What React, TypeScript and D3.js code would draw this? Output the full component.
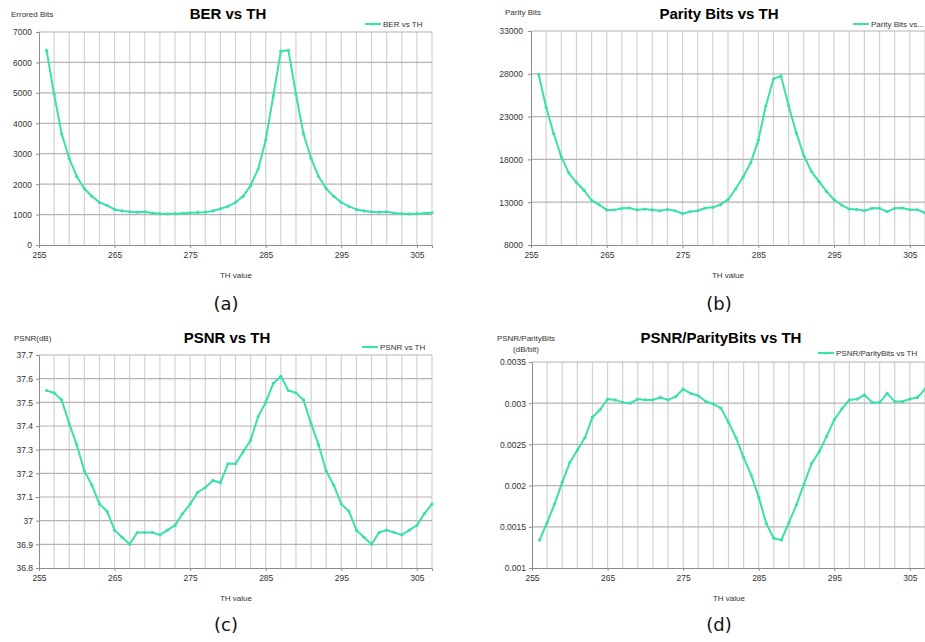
import { useEffect, useRef } from "react";
import * as d3 from "d3";

const thValues = [
  256, 257, 258, 259, 260, 261, 262, 263, 264, 265, 266, 267, 268, 269, 270, 271, 272, 273,
  274, 275, 276, 277, 278, 279, 280, 281, 282, 283, 284, 285, 286, 287, 288, 289, 290, 291,
  292, 293, 294, 295, 296, 297, 298, 299, 300, 301, 302, 303, 304, 305, 306, 307,
];

const berValues = [
  6400, 4950, 3650, 2850, 2250, 1850, 1600, 1400, 1300, 1170, 1120, 1090, 1080, 1090, 1050, 1030, 1020, 1030,
  1040, 1060, 1070, 1080, 1120, 1190, 1270, 1400, 1600, 1950, 2500, 3450, 4900, 6370, 6400, 4950, 3650, 2850,
  2250, 1850, 1600, 1400, 1270, 1170, 1120, 1090, 1080, 1090, 1050, 1030, 1020, 1030, 1040, 1060,
];

const parityValues = [
  27950, 24100, 21000, 18300, 16400, 15300, 14400, 13200, 12700, 12100, 12100, 12280, 12320, 12100, 12200, 12100, 12000, 12160,
  12000, 11660, 11890, 12000, 12320, 12400, 12710, 13300, 14540, 15940, 17600, 20250, 24270, 27400, 27750, 24270, 21150, 18450,
  16600, 15430, 14260, 13290, 12670, 12200, 12160, 12000, 12280, 12280, 11890, 12280, 12320, 12120, 12120, 11770,
];

const psnrValues = [
  37.55, 37.54, 37.51, 37.41, 37.32, 37.21, 37.15, 37.07, 37.04, 36.96, 36.93, 36.9, 36.95, 36.95, 36.95, 36.94, 36.96, 36.98,
  37.03, 37.07, 37.12, 37.14, 37.17, 37.16, 37.24, 37.24, 37.29, 37.34, 37.44, 37.5, 37.58, 37.61, 37.55, 37.54, 37.51, 37.41,
  37.32, 37.21, 37.15, 37.07, 37.04, 36.96, 36.93, 36.9, 36.95, 36.96, 36.95, 36.94, 36.96, 36.98, 37.03, 37.07,
];

const ratioValues = [
  0.00134, 0.00155, 0.00178, 0.00204, 0.00228, 0.00243, 0.00258, 0.00283, 0.00292, 0.00305, 0.00304, 0.00301, 0.003, 0.00305, 0.00304, 0.00304, 0.00307, 0.00304,
  0.00308, 0.00317, 0.00312, 0.00309, 0.00302, 0.00299, 0.00294, 0.00277, 0.00258, 0.00234, 0.00213, 0.00186, 0.00154, 0.00136, 0.00134, 0.00155, 0.00177, 0.00202,
  0.00227, 0.00241, 0.0026, 0.0028, 0.00293, 0.00304, 0.00305, 0.0031, 0.00301, 0.00301, 0.00312, 0.00302, 0.00302, 0.00305, 0.00307, 0.00317,
];

const xTicks = [255, 265, 275, 285, 295, 305];
const xGrid = [257, 259, 261, 263, 265, 267, 269, 271, 273, 275, 277, 279, 281, 283, 285, 287, 289, 291, 293, 295, 297, 299, 301, 303, 305, 307];

const berTicks = [0, 1000, 2000, 3000, 4000, 5000, 6000, 7000];
const parityTicks = [8000, 13000, 18000, 23000, 28000, 33000];
const psnrTicks = [36.8, 36.9, 37, 37.1, 37.2, 37.3, 37.4, 37.5, 37.6, 37.7];
const ratioTicks = [0.001, 0.0015, 0.002, 0.0025, 0.003, 0.0035];

const panels = [
  {
    values: berValues, ticks: berTicks, title: "BER vs TH", ylabel: ["Errored Bits"], legend: "BER vs TH", caption: "(a)",
    box: { left: 39, right: 432, top: 32, bottom: 245 }, titleX: 228, titleY: 19, ylabelX: 11, ylabelY: 17, ylabelAnchor: "start",
    legendX: 365, legendY: 27, xlabelX: 236, xlabelY: 278, captionX: 226, captionY: 310, labelRight: 32,
  },
  {
    values: parityValues, ticks: parityTicks, title: "Parity Bits vs TH", ylabel: ["Parity Bits"], legend: "Parity Bits vs...", caption: "(b)",
    box: { left: 531, right: 925, top: 31, bottom: 245 }, titleX: 719, titleY: 19, ylabelX: 505, ylabelY: 15, ylabelAnchor: "start",
    legendX: 853, legendY: 27, xlabelX: 728, xlabelY: 278, captionX: 719, captionY: 310, labelRight: 523,
  },
  {
    values: psnrValues, ticks: psnrTicks, title: "PSNR vs TH", ylabel: ["PSNR(dB)"], legend: "PSNR vs TH", caption: "(c)",
    box: { left: 39, right: 432, top: 355, bottom: 568 }, titleX: 227, titleY: 343, ylabelX: 14, ylabelY: 341, ylabelAnchor: "start",
    legendX: 362, legendY: 350, xlabelX: 236, xlabelY: 601, captionX: 226, captionY: 631, labelRight: 33,
  },
  {
    values: ratioValues, ticks: ratioTicks, title: "PSNR/ParityBits vs TH", ylabel: ["PSNR/ParityBits", "(dB/bit)"], legend: "PSNR/ParityBits vs TH", caption: "(d)",
    box: { left: 532, right: 925, top: 362, bottom: 568 }, titleX: 721, titleY: 343, ylabelX: 526, ylabelY: 341, ylabelAnchor: "middle",
    legendX: 818, legendY: 356, xlabelX: 729, xlabelY: 601, captionX: 719, captionY: 631, labelRight: 526,
  },
];

const lineColor = "#3be0ac";
const font = "'Liberation Sans', Arial, sans-serif";

const App = () => {
  const svgRef = useRef<SVGSVGElement>(null);

  useEffect(() => {
    const svg = d3.select(svgRef.current);
    svg.selectAll("*").remove();
    svg.append("rect").attr("width", 925).attr("height", 642).attr("fill", "#fff");

    panels.forEach((p) => {
      const { left, right, top, bottom } = p.box;
      const x = d3.scaleLinear().domain([255, 307]).range([left, right]);
      const y = d3.scaleLinear().domain([p.ticks[0], p.ticks[p.ticks.length - 1]]).range([bottom, top]);
      const g = svg.append("g").style("font-family", font);

      // vertical grid
      g.selectAll(".vg").data(xGrid).enter().append("line")
        .attr("x1", (d) => x(d)).attr("x2", (d) => x(d)).attr("y1", top).attr("y2", bottom)
        .attr("stroke", "#d2d2d2").attr("stroke-width", 1.2);
      // horizontal grid
      g.selectAll(".hg").data(p.ticks.slice(1)).enter().append("line")
        .attr("x1", left).attr("x2", right).attr("y1", (d) => y(d)).attr("y2", (d) => y(d))
        .attr("stroke", "#b4b4b4").attr("stroke-width", 1.2);

      // axes
      const yAxis = g.append("g").attr("transform", `translate(${left},0)`)
        .call(d3.axisLeft(y).tickValues(p.ticks).tickSize(3).tickFormat((d) => String(+(+d).toPrecision(6))));
      yAxis.select(".domain").attr("stroke", "#8c8c8c");
      yAxis.selectAll(".tick line").attr("stroke", "#8c8c8c");
      yAxis.selectAll("text").attr("x", p.labelRight - left).attr("dy", "0.35em")
        .style("font-size", "8.5px").attr("fill", "#333");

      const xAxis = g.append("g").attr("transform", `translate(0,${bottom})`)
        .call(d3.axisBottom(x).tickValues(xTicks).tickSize(3).tickFormat(d3.format("d")));
      xAxis.select(".domain").attr("stroke", "#8c8c8c");
      xAxis.selectAll(".tick line").attr("stroke", "#8c8c8c");
      xAxis.selectAll("text").attr("y", 7).style("font-size", "8.5px").attr("fill", "#333");

      // series
      const line = d3.line<number>().x((d, i) => x(thValues[i])).y((d) => y(d));
      g.append("path").datum(p.values).attr("d", line)
        .attr("fill", "none").attr("stroke", lineColor).attr("stroke-width", 2).attr("stroke-linejoin", "round");
      g.selectAll(".pt").data(p.values).enter().append("circle")
        .attr("cx", (d, i) => x(thValues[i])).attr("cy", (d) => y(d)).attr("r", 1.6).attr("fill", lineColor);

      // titles
      g.append("text").attr("x", p.titleX).attr("y", p.titleY).attr("text-anchor", "middle")
        .style("font-size", "15px").style("font-weight", "bold").attr("fill", "#000").text(p.title);
      p.ylabel.forEach((t, i) => {
        g.append("text").attr("x", p.ylabelX).attr("y", p.ylabelY + i * 11).attr("text-anchor", p.ylabelAnchor)
          .style("font-size", "8px").attr("fill", "#333").text(t);
      });
      g.append("text").attr("x", p.xlabelX).attr("y", p.xlabelY).attr("text-anchor", "middle")
        .style("font-size", "8px").attr("fill", "#333").text("TH value");
      g.append("text").attr("x", p.captionX).attr("y", p.captionY).attr("text-anchor", "middle")
        .style("font-size", "18px").style("font-family", "'DejaVu Sans', sans-serif").attr("fill", "#111").text(p.caption);

      // legend
      g.append("line").attr("x1", p.legendX).attr("x2", p.legendX + 16).attr("y1", p.legendY - 3).attr("y2", p.legendY - 3)
        .attr("stroke", lineColor).attr("stroke-width", 2);
      g.append("circle").attr("cx", p.legendX + 8).attr("cy", p.legendY - 3).attr("r", 1.6).attr("fill", lineColor);
      g.append("text").attr("x", p.legendX + 18).attr("y", p.legendY).style("font-size", "8px").attr("fill", "#333").text(p.legend);
    });
  }, []);

  return <svg ref={svgRef} width={925} height={642} style={{ position: "absolute", left: 0, top: 0 }}></svg>;
};

export default App;
